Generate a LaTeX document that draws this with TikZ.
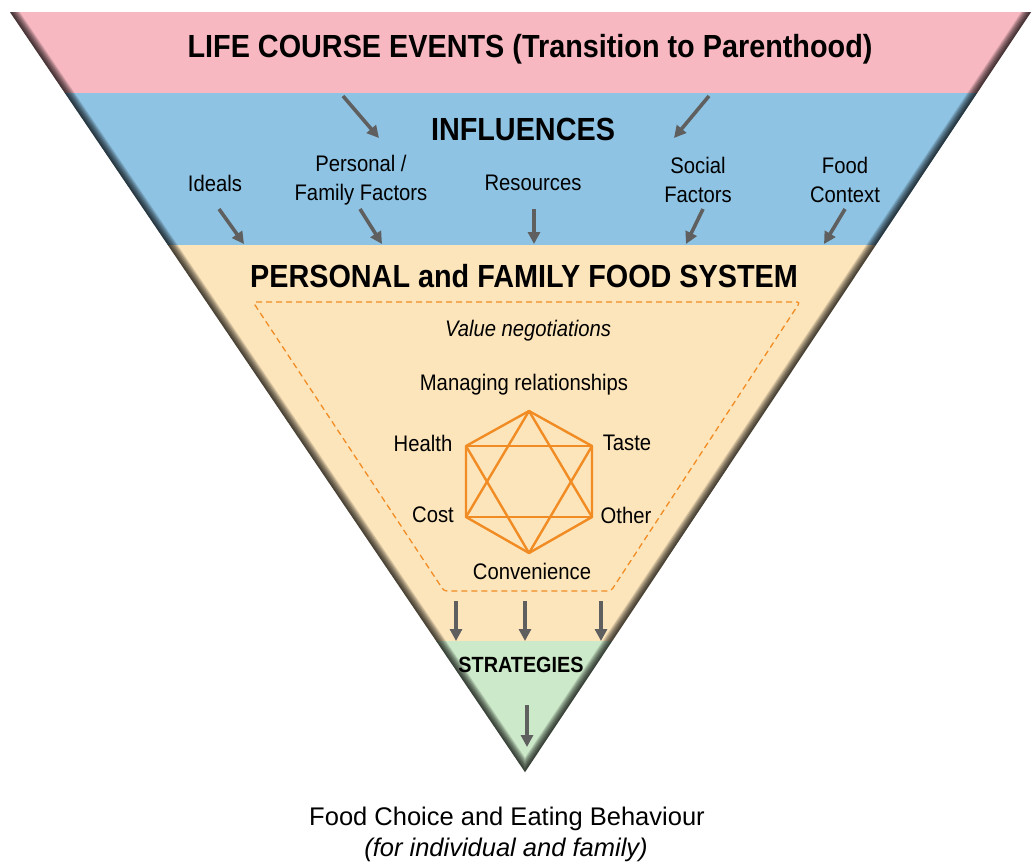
\documentclass[tikz,border=0pt]{standalone}
\usepackage{fontspec}
\setmainfont{Liberation Sans}
\newfontfamily\narrowfont[FakeStretch=0.9]{Liberation Sans}
\usetikzlibrary{arrows.meta,calc}

\definecolor{bandpink}{RGB}{248,184,193}
\definecolor{bandblue}{RGB}{142,195,227}
\definecolor{bandcream}{RGB}{253,229,187}
\definecolor{bandgreen}{RGB}{204,234,201}
\definecolor{hexorange}{RGB}{240,140,35}
\definecolor{arrowgray}{RGB}{95,95,95}

\tikzset{
  arr/.style={draw=arrowgray, line width=3.6pt, -{Triangle[length=12pt,width=12pt]}},
  bigtitle/.style={font=\narrowfont\bfseries\fontsize{32}{36}\selectfont, inner sep=0pt},
  midtitle/.style={font=\narrowfont\bfseries\fontsize{22}{26}\selectfont, inner sep=0pt},
  lbl/.style={font=\narrowfont\fontsize{22.5}{29}\selectfont, align=center, inner sep=0pt},
  hexline/.style={draw=hexorange, line width=2.4pt, line join=round},
  bottomtxt/.style={font=\fontsize{25.5}{30}\selectfont, inner sep=0pt},
}

\begin{document}
\begin{tikzpicture}[x=1pt,y=-1pt]
\useasboundingbox (0,0) rectangle (1035,865);

% corners of the inverted triangle
\coordinate (TL) at (10,12);
\coordinate (TR) at (1031,12);
\coordinate (A)  at (525,772);

% horizontal bands
\fill[bandpink]  (TL) -- (TR) -- ($(TR)!0.10658!(A)$) -- ($(TL)!0.10658!(A)$) -- cycle;
\fill[bandblue]  ($(TL)!0.10658!(A)$) -- ($(TR)!0.10658!(A)$) -- ($(TR)!0.30658!(A)$) -- ($(TL)!0.30658!(A)$) -- cycle;
\fill[bandcream] ($(TL)!0.30658!(A)$) -- ($(TR)!0.30658!(A)$) -- ($(TR)!0.82763!(A)$) -- ($(TL)!0.82763!(A)$) -- cycle;
\fill[bandgreen] ($(TL)!0.82763!(A)$) -- ($(TR)!0.82763!(A)$) -- (A) -- cycle;

% soft inner shadow along the slanted edges
\begin{scope}
  \clip (TL) -- (TR) -- (A) -- cycle;
  \foreach \w in {2,4,...,16}
    \draw[black, opacity=0.14, line width=\w pt] ($(A)!1.05!(TL)$) -- (A) -- ($(A)!1.05!(TR)$);
\end{scope}

% top band
\node[bigtitle] (life) at (530,49) {LIFE COURSE EVENTS (Transition to Parenthood)};

% influences band
\node[bigtitle] (infl) at (523,129) {INFLUENCES};
\node[lbl] (ideals) at (215,183) {Ideals};
\node[lbl] (pers)   at (361,180) {Personal /\\Family Factors};
\node[lbl] (res)    at (533,183) {Resources};
\node[lbl] (soc)    at (698,180) {Social\\Factors};
\node[lbl] (fctx)   at (845,180) {Food\\Context};

\coordinate (l1s) at (343,96);  \coordinate (l1e) at (379,138);
\coordinate (l2s) at (709,96);  \coordinate (l2e) at (674,138);
\draw[arr] (l1s) -- (l1e);
\draw[arr] (l2s) -- (l2e);

\coordinate (i1e) at (244,244);
\coordinate (i2e) at (382,244);
\coordinate (i3e) at (534,244);
\coordinate (i4e) at (686,244);
\coordinate (i5e) at (824,244);
\draw[arr] (219,209) -- (i1e);
\draw[arr] (360,209) -- (i2e);
\draw[arr] (534,209) -- (i3e);
\draw[arr] (703,209) -- (i4e);
\draw[arr] (845,209) -- (i5e);

% personal and family food system
\node[bigtitle] (pffs) at (524,276) {PERSONAL and FAMILY FOOD SYSTEM};
\draw[hexorange, line width=1.3pt, dash pattern=on 6pt off 4pt, rounded corners=3pt]
  (253,302) -- (800,302) -- (611,591) -- (444,591) -- cycle;
\node[lbl, font=\narrowfont\itshape\fontsize{22.5}{26}\selectfont] (valneg) at (528,331) {Value negotiations};
\node[lbl] (manrel) at (524,385) {Managing relationships};

% value hexagram
\coordinate (hT)  at (529,411);
\coordinate (hUL) at (466,446);
\coordinate (hUR) at (592,446);
\coordinate (hLL) at (466,517);
\coordinate (hLR) at (592,517);
\coordinate (hB)  at (529,553);
\draw[hexline] (hT) -- (hUR) -- (hLR) -- (hB) -- (hLL) -- (hUL) -- cycle;
\draw[hexline] (hUL) -- (hUR);
\draw[hexline] (hLL) -- (hLR);
\draw[hexline] (hT) -- (hLL);
\draw[hexline] (hT) -- (hLR);
\draw[hexline] (hB) -- (hUL);
\draw[hexline] (hB) -- (hUR);

\node[lbl] (health) at (423,443) {Health};
\node[lbl] (taste)  at (627,443) {Taste};
\node[lbl] (cost)   at (433,515) {Cost};
\node[lbl] (other)  at (626,515) {Other};
\node[lbl] (conv)   at (532,571) {Convenience};

% strategies
\coordinate (s1e) at (456,641);
\coordinate (s2e) at (525,641);
\coordinate (s3e) at (601,641);
\draw[arr] (456,601) -- (s1e);
\draw[arr] (525,601) -- (s2e);
\draw[arr] (601,601) -- (s3e);
\node[midtitle] (strat) at (521,665) {STRATEGIES};
\coordinate (oute) at (527,747);
\draw[arr] (527,705) -- (oute);

% outcome
\node[bottomtxt] (outcome) at (507,819) {Food Choice and Eating Behaviour};
\node[bottomtxt, font=\itshape\fontsize{25.5}{30}\selectfont] (outwho) at (506,850) {(for individual and family)};
\end{tikzpicture}
\end{document}
